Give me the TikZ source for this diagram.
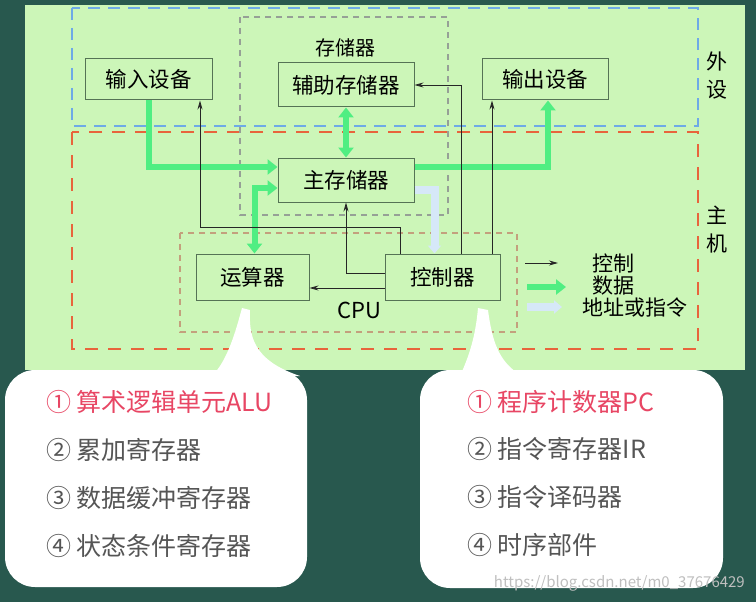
\documentclass[tikz,border=0pt]{standalone}
\usepackage{fontspec}
\setmainfont{Noto Sans CJK SC}
\usetikzlibrary{arrows.meta}
\definecolor{bg}{RGB}{40,88,78}
\definecolor{panel}{RGB}{204,246,184}
\definecolor{boxline}{RGB}{85,115,85}
\definecolor{datagreen}{RGB}{80,238,130}
\definecolor{addrblue}{RGB}{214,232,248}
\definecolor{outerblue}{RGB}{110,170,230}
\definecolor{hostred}{RGB}{232,100,60}
\definecolor{memgray}{RGB}{150,160,150}
\definecolor{cpuframe}{RGB}{195,160,125}
\definecolor{pinkred}{RGB}{232,70,100}
\definecolor{itemgray}{RGB}{85,85,85}
\tikzset{
  box/.style={draw=boxline, fill=panel, line width=1pt, inner sep=0pt, font=\fontsize{21.5pt}{24pt}\selectfont},
  ctrl/.style={draw=black!85, line width=0.8pt, -{Stealth[length=9pt,width=5pt]}},
  data/.style={draw=datagreen, line width=6pt, -{Triangle[length=10pt,width=15pt]}},
  datatwo/.style={draw=datagreen, line width=6pt, {Triangle[length=10pt,width=15pt]}-{Triangle[length=10pt,width=15pt]}},
  addr/.style={draw=addrblue, line width=8pt, -{Triangle[length=8pt,width=13pt]}},
  item/.style={anchor=west, inner sep=0pt, text=itemgray, font=\fontsize{25pt}{28pt}\selectfont},
  label/.style={inner sep=0pt, font=\fontsize{19pt}{22pt}\selectfont}
}

\begin{document}
\begin{tikzpicture}[x=1pt,y=-1pt]
\useasboundingbox (0,0) rectangle (756,602);
\fill[bg] (0,0) rectangle (756,602);
\fill[panel] (25,5) rectangle (745,370);
\draw[outerblue, line width=2.5pt, dash pattern=on 12pt off 8pt] (72,8) rectangle (698,126);
\draw[hostred, line width=2.5pt, dash pattern=on 13pt off 10pt] (72,132) rectangle (698,349);
\draw[memgray, line width=1.2pt, dash pattern=on 6pt off 5pt] (240,17) rectangle (448,215);
\draw[cpuframe, line width=1.2pt, dash pattern=on 6pt off 5pt] (180,233) rectangle (517,332);
\node[label, font=\fontsize{20pt}{22pt}\selectfont] (mem) at (345,48) {存储器};
\node[label, font=\fontsize{22pt}{24pt}\selectfont] (cpu) at (359,310) {CPU};
\node[label, align=center, font=\fontsize{21pt}{28pt}\selectfont] (peri) at (717,76) {外\\设};
\node[label, align=center, font=\fontsize{21pt}{28pt}\selectfont] (host) at (717,230) {主\\机};

\node[box, minimum width=127pt, minimum height=41pt] (in) at (148.5,79.5) {输入设备};
\node[box, minimum width=136pt, minimum height=44pt] (aux) at (346,85) {辅助存储器};
\node[box, minimum width=126pt, minimum height=41pt] (out) at (545,79.5) {输出设备};
\node[box, minimum width=136pt, minimum height=44pt] (main) at (346,180) {主存储器};
\node[box, minimum width=113pt, minimum height=46pt] (alu) at (252.5,277) {运算器};
\node[box, minimum width=115pt, minimum height=46pt] (cu) at (442.5,277) {控制器};

\draw[addr] ([yshift=-10pt]main.east) -| ([xshift=-8pt]cu.north);
\draw[data] (in.south) |- ([yshift=13pt]main.west);
\draw[data] ([yshift=13pt]main.east) -| ([xshift=3pt]out.south);
\draw[datatwo] (aux.south) -- (main.north);
\draw[datatwo] ([yshift=-8pt]main.west) -| ([xshift=2pt]alu.north);

\draw[ctrl] ([xshift=-42.5pt]cu.north) -- ++(0,-26) -| ([xshift=51.5pt]in.south);
\draw[ctrl] ([yshift=4pt]cu.west) -| (main.south);
\draw[ctrl] ([yshift=-11pt]cu.west) -- ([yshift=-11pt]alu.east);
\draw[ctrl] ([xshift=19pt]cu.north) |- (aux.east);
\draw[ctrl] ([xshift=49.5pt]cu.north) -- ([xshift=49.5pt]cu.north |- out.south);

\node[label, anchor=west, font=\fontsize{21pt}{22pt}\selectfont] (kctrl) at (592,263) {控制};
\node[label, anchor=west, font=\fontsize{21pt}{22pt}\selectfont] (kdata) at (592,286) {数据};
\node[label, anchor=west, font=\fontsize{21pt}{22pt}\selectfont] (kaddr) at (582,308) {地址或指令};
\coordinate (k1) at (525,263);
\coordinate (k2) at (558,263);
\coordinate (k3) at (527,287);
\coordinate (k4) at (566,287);
\coordinate (k5) at (527,307);
\coordinate (k6) at (562,307);
\draw[ctrl] (k1) -- (k2);
\draw[data] (k3) -- (k4);
\draw[addr] (k5) -- (k6);

\fill[white, rounded corners=30pt] (5,370) rectangle (307,587);
\fill[white] (212,376) .. controls (228,360) and (236,330) .. (242,308) -- (250,310) .. controls (249,335) and (252,360) .. (300,376) -- cycle;
\fill[white, rounded corners=30pt] (420,370) rectangle (723,588);
\fill[white] (460,376) .. controls (472,350) and (476,330) .. (478,308) -- (488,310) .. controls (492,340) and (498,362) .. (522,376) -- cycle;

\node[item, text=pinkred] (alu1) at (46,402) {① 算术逻辑单元ALU};
\node[item] (alu2) at (46,450) {② 累加寄存器};
\node[item] (alu3) at (46,498) {③ 数据缓冲寄存器};
\node[item] (alu4) at (46,546) {④ 状态条件寄存器};
\node[item, text=pinkred] (cu1) at (467,402) {① 程序计数器PC};
\node[item] (cu2) at (467,449) {② 指令寄存器IR};
\node[item] (cu3) at (467,497) {③ 指令译码器};
\node[item] (cu4) at (467,545) {④ 时序部件};
\node[anchor=east, inner sep=0pt, text=black!25, font=\fontsize{15pt}{17pt}\selectfont] (mark) at (745,583) {https://blog.csdn.net/m0\_37676429};
\end{tikzpicture}
\end{document}
